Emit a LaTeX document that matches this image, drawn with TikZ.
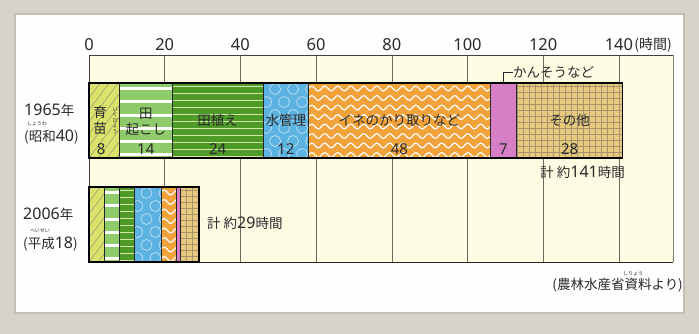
\documentclass[tikz,border=0pt]{standalone}
\usepackage{fontspec}
\setmainfont{Noto Sans CJK JP}
\newfontfamily\numfont{Noto Sans}
\usetikzlibrary{positioning}

\definecolor{outerC}{HTML}{D7D3CB}
\definecolor{shadowC}{HTML}{C4BFB5}
\definecolor{paperC}{HTML}{FEFEFC}
\definecolor{creamC}{HTML}{FDFBE1}
\definecolor{gridC}{HTML}{6E6A5E}
\definecolor{ink}{HTML}{2A2A2A}
\definecolor{ikuC}{HTML}{DBE36C}
\definecolor{okoC}{HTML}{8FCB6A}
\definecolor{taueC}{HTML}{4F9B2A}
\definecolor{taueL}{HTML}{D2E8A4}
\definecolor{mizuC}{HTML}{5CB3E2}
\definecolor{ineC}{HTML}{F1A23A}
\definecolor{kansoC}{HTML}{D67FC6}
\definecolor{sonoC}{HTML}{E8CA7E}
\definecolor{sonoL}{HTML}{A8946C}

\newcommand\hr{3.785}
\newcommand\dg[1]{{\numfont\fontsize{16}{18}\selectfont#1}}

\tikzset{
  seg/.style={draw=black!85, line width=0.5pt, minimum height=75pt,
    inner sep=0pt, outer sep=0pt, anchor=south west},
  hatch/.style={fill=ikuC, path picture={
    \foreach \i in {-12,...,16}
      \draw[black!55, line width=0.3pt]
        ([xshift=\i*9pt]path picture bounding box.south west) -- ++(60,80);}},
  wstripe/.style={fill=okoC, path picture={
    \foreach \i in {0,...,6}
      \draw[white, line width=3pt]
        ([yshift=\i*13.3pt+3pt]path picture bounding box.south west) -- ++(120,0);}},
  gline/.style={fill=taueC, path picture={
    \foreach \i in {0,...,11}
      \draw[taueL, line width=0.7pt]
        ([yshift=\i*7pt+2pt]path picture bounding box.south west) -- ++(200,0);}},
  bubble/.style={fill=mizuC, path picture={
    \foreach \i in {0,...,3} \foreach \j in {0,...,6}
      \draw[white!85!mizuC, line width=0.45pt]
        ([shift={({\i*18+mod(\j,2)*9+3},{\j*13+4})}]path picture bounding box.south west) circle (5.5);}},
  wave/.style={fill=ineC, path picture={
    \foreach \j in {0,...,8}
      \draw[white, line width=1.2pt]
        ([yshift=\j*9.5pt+3pt]path picture bounding box.south west)
        \foreach \k in {1,...,15} {sin ++(3.25,2.4) cos ++(3.25,-2.4) sin ++(3.25,-2.4) cos ++(3.25,2.4)};}},
  plain/.style={fill=kansoC},
  mesh/.style={fill=sonoC, path picture={
    \foreach \i in {0,...,18}
      \draw[sonoL, line width=0.3pt]
        ([xshift=\i*6pt]path picture bounding box.south west) -- ++(0,80)
        ([yshift=\i*6pt]path picture bounding box.south west) -- ++(110,0);}}
}

\begin{document}
\begin{tikzpicture}[x=1pt,y=1pt,
  tick/.style={font=\numfont\fontsize{16.5}{18}\selectfont, text=ink, inner sep=1pt},
  lbl/.style={font=\fontsize{13.5}{16.5}\selectfont, text=ink, inner sep=0pt},
  num/.style={font=\numfont\fontsize{15}{16}\selectfont, text=ink, inner sep=0pt},
  ruby/.style={font=\fontsize{5}{5.5}\selectfont, text=ink, inner sep=0pt}]

\fill[outerC] (0,0) rectangle (699,334);
\fill[shadowC] (14,20) rectangle (685,321);
\fill[paperC] (16,22) rectangle (683,319);
\useasboundingbox (0,0) rectangle (699,334);

\fill[creamC] (89,72) rectangle (673,279);
\foreach \v in {20,40,...,140}
  \draw[gridC, line width=0.5pt] ({89+\v*\hr},72) -- ({89+\v*\hr},279);
\draw[black!75, line width=0.5pt] (673,279) -- (89,279) -- (89,72);
\draw[gray, line width=0.4pt] (673,72) -- (673,279);
\draw[black!85, line width=0.9pt] (89,72) -- (673,72);

\foreach \v in {0,20,...,140}
  \node[tick] (t\v) at ({89+\v*\hr},289) {\v};
\node[lbl, anchor=west, font=\fontsize{14}{16}\selectfont] (unit) at (t140.east) {(時間)};

\node[lbl, anchor=west] (y1965) at (24,224) {\dg{1965}年};
\node[ruby] (r1965) at (37,210.5) {しょうわ};
\node[lbl, anchor=west] (s1965) at (24,197) {(昭和\dg{40})};
\node[lbl, anchor=west] (y2006) at (23,120) {\dg{2006}年};
\node[ruby] (r2006) at (40,103.5) {へいせい};
\node[lbl, anchor=west] (s2006) at (23,90) {(平成\dg{18})};

% 1965
\node[seg, hatch, minimum width={8*\hr pt}] (ikuA) at (89,176) {};
\node[seg, wstripe, minimum width={14*\hr pt}, right=0pt of ikuA] (okoA) {};
\node[seg, gline, minimum width={24*\hr pt}, right=0pt of okoA] (taueA) {};
\node[seg, bubble, minimum width={12*\hr pt}, right=0pt of taueA] (mizuA) {};
\node[seg, wave, minimum width={48*\hr pt}, right=0pt of mizuA] (ineA) {};
\node[seg, plain, minimum width={7*\hr pt}, right=0pt of ineA] (kansoA) {};
\node[seg, mesh, minimum width={28*\hr pt}, right=0pt of kansoA] (sonoA) {};
\draw[line width=1.6pt] (ikuA.south west) rectangle (sonoA.north east);

\node[lbl, align=center] (ikuT) at ([xshift=-4pt]ikuA.center) {育\\苗};
\node[ruby, align=center] (ikuR) at ([xshift=11pt]ikuA.center) {い\\く\\び\\ょ\\う};
\node[num] (ikuN) at ([xshift=-3pt,yshift=-28.5pt]ikuA.center) {8};
\node[lbl, align=center] (okoT) at ([yshift=-1.5pt]okoA.center) {田\\起こし};
\node[num] (okoN) at ([yshift=-28.5pt]okoA.center) {14};
\node[lbl] (taueT) at (taueA.center) {田植え};
\node[num] (taueN) at ([yshift=-28.5pt]taueA.center) {24};
\node[lbl] (mizuT) at (mizuA.center) {水管理};
\node[num] (mizuN) at ([yshift=-28.5pt]mizuA.center) {12};
\node[lbl] (ineT) at (ineA.center) {イネのかり取りなど};
\node[num] (ineN) at ([yshift=-28.5pt]ineA.center) {48};
\node[num] (kansoN) at ([yshift=-28.5pt]kansoA.center) {7};
\node[lbl] (sonoT) at (sonoA.center) {その他};
\node[num] (sonoN) at ([yshift=-28.5pt]sonoA.center) {28};

\node[lbl, anchor=west] (kansoT) at (513,262) {かんそうなど};
\draw[ink, line width=0.6pt] (kansoA.north) |- (kansoT.west);
\node[lbl, anchor=east] (totA) at (625,162) {計 約\dg{141}時間};

% 2006
\node[seg, hatch, minimum width={4*\hr pt}] (ikuB) at (89,72) {};
\node[seg, wstripe, minimum width={4*\hr pt}, right=0pt of ikuB] (okoB) {};
\node[seg, gline, minimum width={4*\hr pt}, right=0pt of okoB] (taueB) {};
\node[seg, bubble, minimum width={7*\hr pt}, right=0pt of taueB] (mizuB) {};
\node[seg, wave, minimum width={4*\hr pt}, right=0pt of mizuB] (ineB) {};
\node[seg, plain, minimum width={1*\hr pt}, right=0pt of ineB] (kansoB) {};
\node[seg, mesh, minimum width={5*\hr pt}, right=0pt of kansoB] (sonoB) {};
\draw[line width=1.6pt] (ikuB.south west) rectangle (sonoB.north east);
\node[lbl, anchor=west] (totB) at (207,111) {計 約\dg{29}時間};

\node[lbl, anchor=east] (src) at (683,49) {(農林水産省資料より)};
\node[ruby] (srcR) at (633,60.5) {しりょう};
\end{tikzpicture}
\end{document}
